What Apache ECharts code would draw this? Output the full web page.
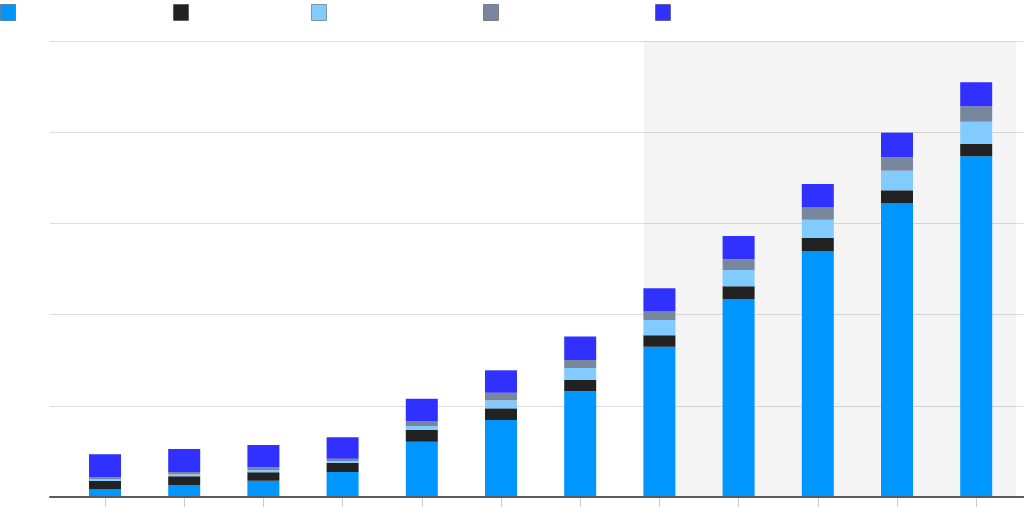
<!DOCTYPE html>
<html>
<head>
<meta charset="utf-8">
<script src="https://cdn.jsdelivr.net/npm/echarts@6/dist/echarts.min.js"></script>
<style>
html,body{margin:0;padding:0;background:#fff;}
#chart{width:1024px;height:528px;}
</style>
</head>
<body>
<div id="chart"></div>
<script>
const categories = ['2019','2020','2021','2022','2023','2024','2025','2026','2027','2028','2029','2030'];
const seriesNames = ['Series 1','Series 2','Series 3','Series 4','Series 5'];
const s1 = [0.088, 0.132, 0.179, 0.274, 0.606, 0.844, 1.159, 1.648, 2.171, 2.697, 3.220, 3.736];
const s2 = [0.088, 0.095, 0.092, 0.099, 0.128, 0.128, 0.124, 0.125, 0.139, 0.143, 0.143, 0.138];
const s3 = [0.019, 0.022, 0.025, 0.022, 0.044, 0.088, 0.132, 0.168, 0.179, 0.201, 0.215, 0.241];
const s4 = [0.022, 0.025, 0.029, 0.025, 0.055, 0.083, 0.088, 0.099, 0.117, 0.132, 0.147, 0.169];
const s5 = [0.252, 0.252, 0.245, 0.235, 0.245, 0.246, 0.256, 0.249, 0.256, 0.260, 0.270, 0.263];
const yMin = 0, yMax = 5, yStep = 1;
const shadeFrom = 6.8, shadeTo = 11.5;

const colors = ['#0096ff', '#222222', '#82cbff', '#78869e', '#3030ff'];
const values = [s1, s2, s3, s4, s5];
const legendLeft = [0, 173, 311, 483, 655];

const chart = echarts.init(document.getElementById('chart'), null, {renderer: 'canvas'});

const barSeries = values.map((v, i) => ({
  name: seriesNames[i],
  type: 'bar',
  stack: 'total',
  xAxisIndex: 1,
  yAxisIndex: 1,
  barWidth: 32,
  itemStyle: {color: colors[i]},
  data: v
}));

const option = {
  animation: false,
  color: colors,
  legend: seriesNames.map((n, i) => ({
    data: [n],
    left: legendLeft[i],
    top: 4,
    padding: 0,
    icon: 'rect',
    itemWidth: 15,
    itemHeight: 16,
    itemStyle: {borderColor: 'rgba(0,0,0,0.35)', borderWidth: 1},
    formatter: () => '',
    selectedMode: false
  })),
  grid: [
    {left: 50, right: 0, top: 41, bottom: 31},
    {left: 65.4, right: 8.2, top: 41, bottom: 31}
  ],
  xAxis: [
    {gridIndex: 0, type: 'category', data: categories, axisLine: {show: true, lineStyle: {color: '#5a5a5a', width: 2}}, axisTick: {show: false}, axisLabel: {show: false}, z: 5},
    {gridIndex: 1, type: 'category', data: categories, axisLine: {show: false}, axisTick: {show: true, alignWithLabel: true, length: 10, lineStyle: {color: '#cccccc'}}, axisLabel: {show: false}},
    {gridIndex: 1, type: 'value', min: -0.5, max: 11.5, show: false, splitLine: {show: false}}
  ],
  yAxis: [
    {gridIndex: 0, type: 'value', min: yMin, max: yMax, interval: yStep, axisLabel: {show: false}, axisLine: {show: false}, axisTick: {show: false}, splitLine: {lineStyle: {color: '#dddddd', width: 1}}},
    {gridIndex: 1, type: 'value', min: yMin, max: yMax, interval: yStep, show: false, splitLine: {show: false}}
  ],
  series: [
    {
      name: 'shade',
      type: 'line',
      xAxisIndex: 2,
      yAxisIndex: 1,
      data: [],
      silent: true,
      markArea: {
        silent: true,
        itemStyle: {color: 'rgba(0,0,0,0.045)'},
        data: [[{xAxis: shadeFrom}, {xAxis: shadeTo}]]
      }
    },
    ...barSeries
  ]
};
chart.setOption(option);
</script>
</body>
</html>
